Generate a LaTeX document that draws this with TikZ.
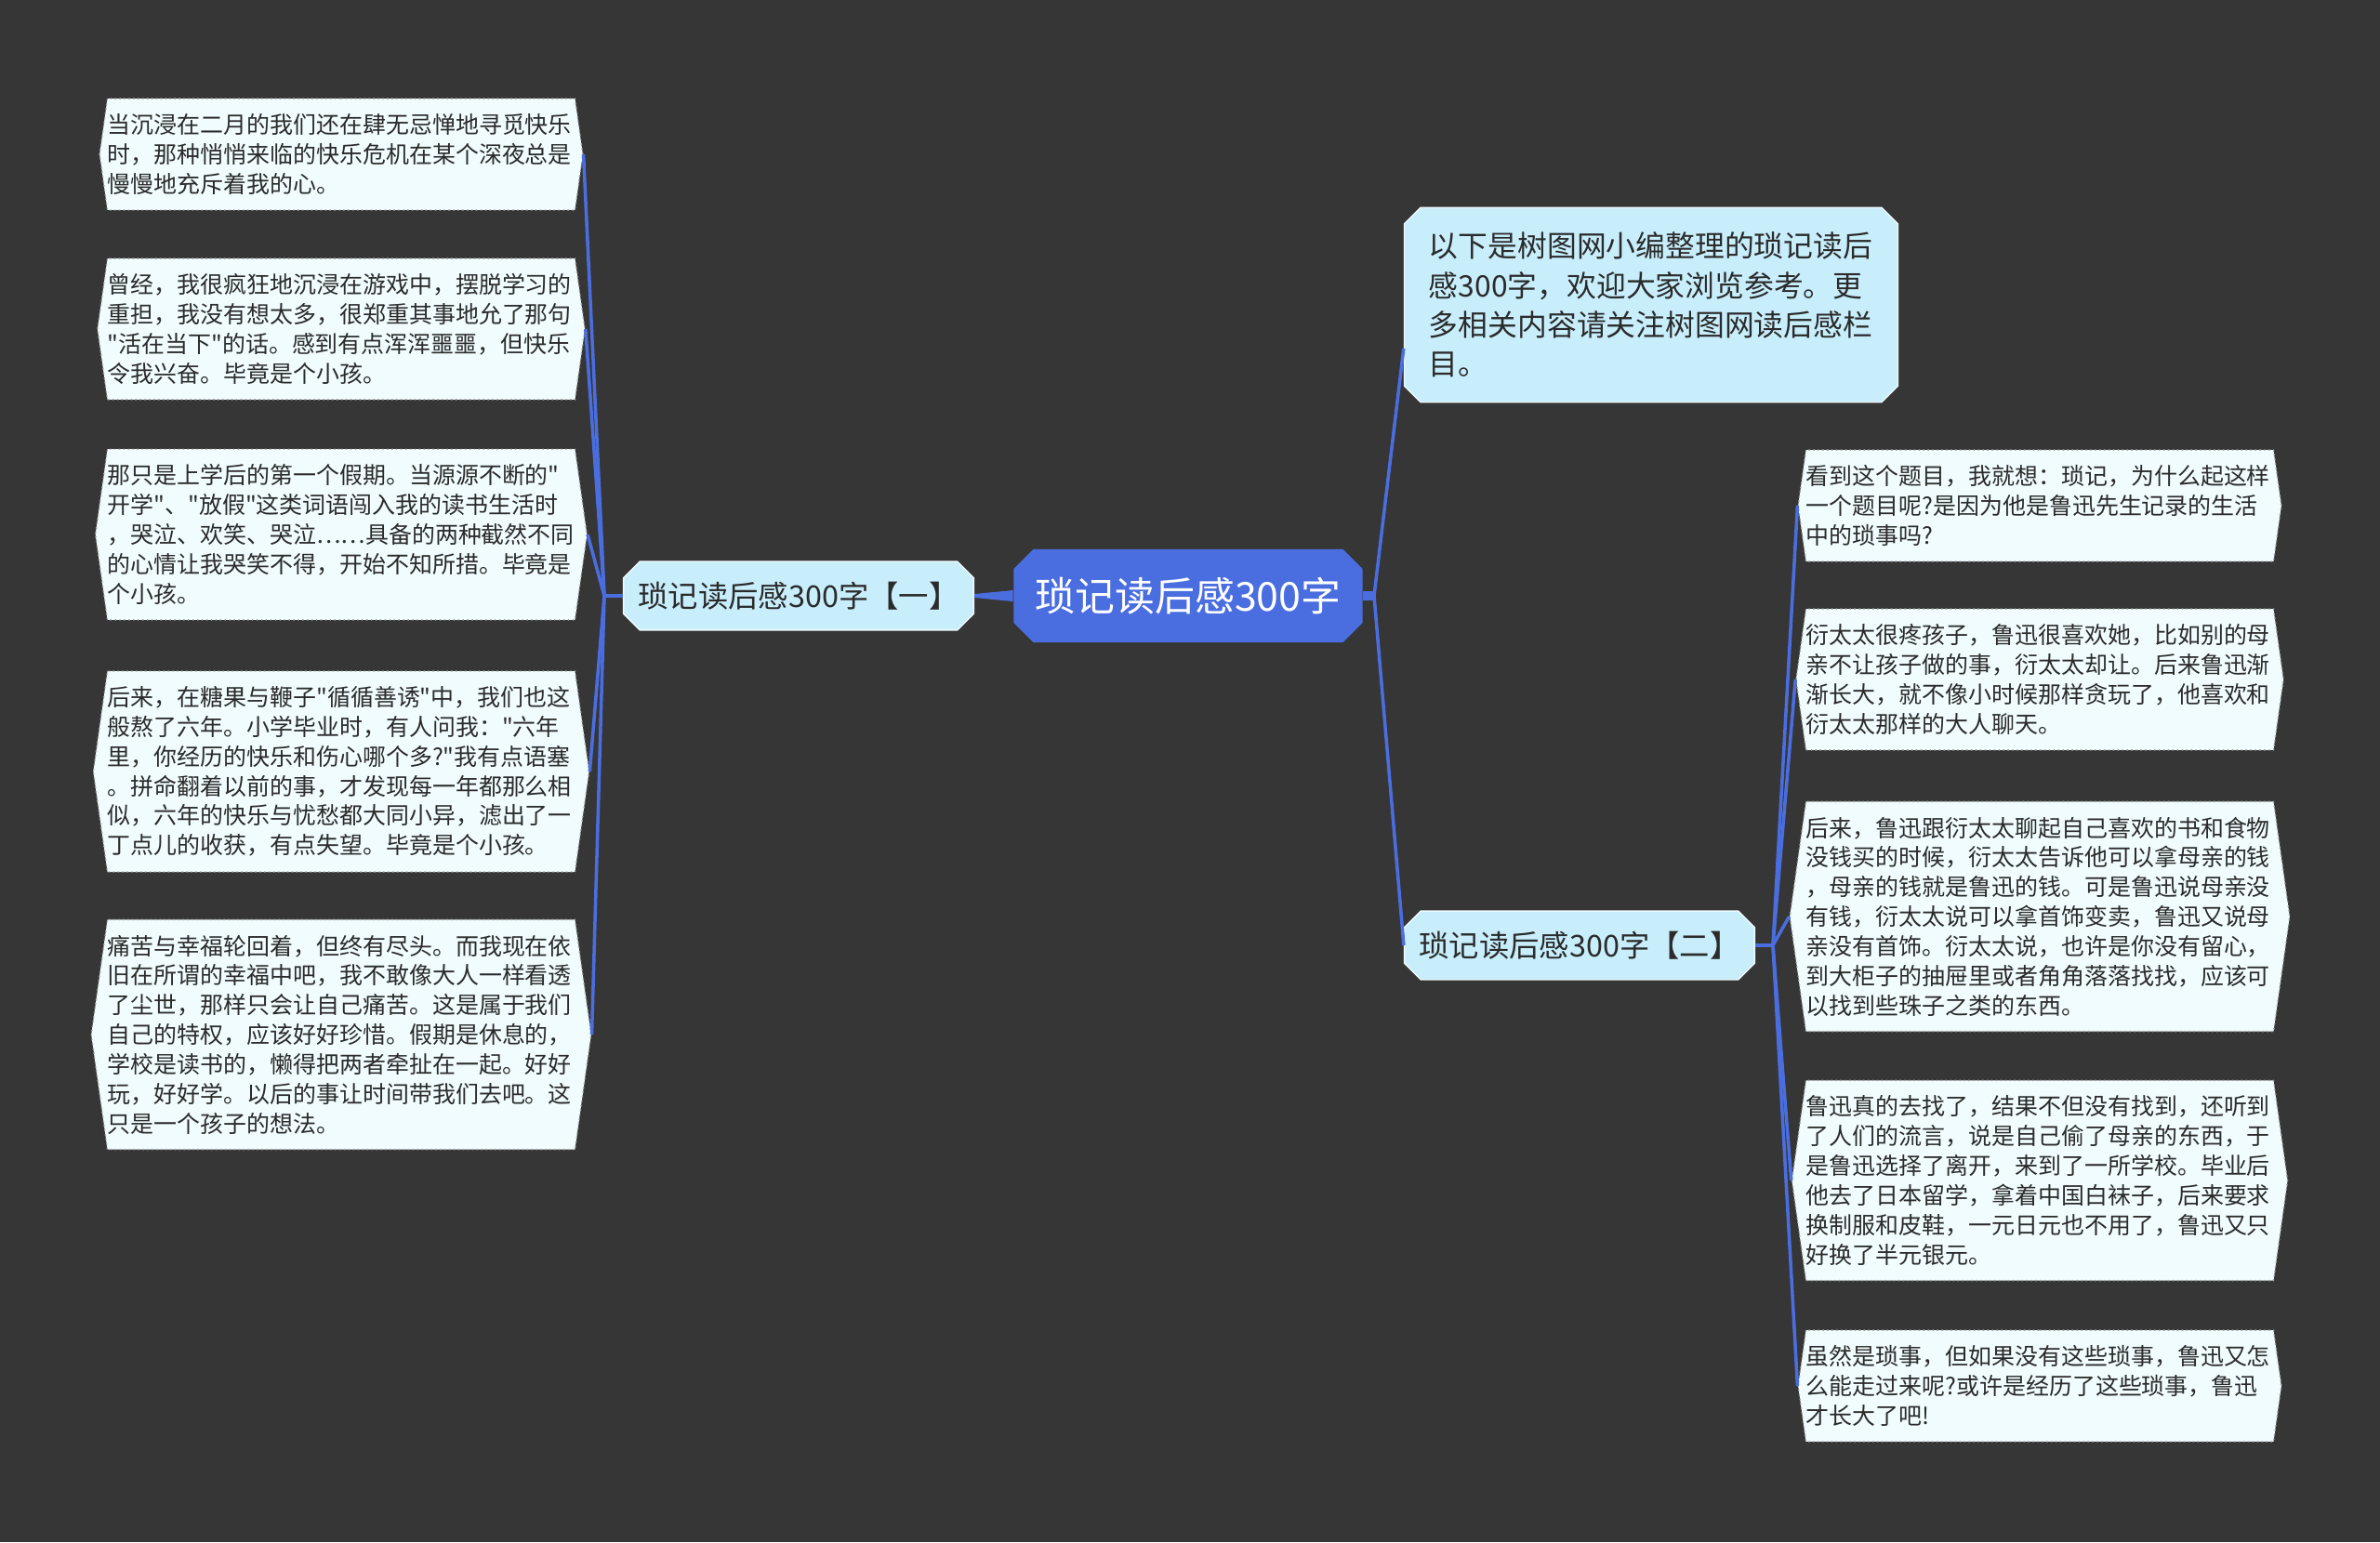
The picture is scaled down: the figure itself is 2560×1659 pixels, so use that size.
\documentclass[tikz,border=0pt]{standalone}
\usepackage{fontspec}
\setmainfont{Noto Sans CJK SC}[Ligatures=TeXOff]
\usetikzlibrary{shapes.misc,shapes.symbols,calc}

\definecolor{mapBack}{HTML}{363636}
\definecolor{mapRoot}{HTML}{4A6EE0}
\definecolor{mapLink}{HTML}{4A6EE0}
\definecolor{mapTopic}{HTML}{C8EEFC}
\definecolor{mapLeaf}{HTML}{F0FCFD}
\definecolor{mapInk}{HTML}{2B2B2B}

\begin{document}
\begin{tikzpicture}[x=0.01cm,y=-0.01cm,
  rootbox/.style={chamfered rectangle,chamfered rectangle xsep=3pt,chamfered rectangle ysep=3pt,
    fill=mapRoot,text=white,font=\fontsize{12.2pt}{14pt}\selectfont,
    minimum width=106.7pt,minimum height=28.5pt,inner sep=2pt},
  topicbox/.style={chamfered rectangle,chamfered rectangle xsep=2.5pt,chamfered rectangle ysep=2.5pt,
    fill=mapTopic,draw=white!70!mapTopic,text=mapInk,font=\fontsize{9.2pt}{11pt}\selectfont,
    minimum width=107pt,minimum height=21pt,inner sep=2pt},
  notebox/.style={topicbox,font=\fontsize{9.05pt}{12.07pt}\selectfont,
    text width=136pt,align=left,inner xsep=5pt,inner ysep=5pt},
  leafbox/.style={signal,signal to=east and west,signal pointer angle=164,
    fill=mapLeaf,draw=gray!70,densely dotted,line width=0.4pt,text=mapInk,
    font=\fontsize{7.1pt}{9.05pt}\selectfont,text width=143pt,align=left,
    inner xsep=0pt,inner ysep=4.7pt},
  link/.style={draw=mapLink,line width=1pt}]
  \fill[mapBack] (0,0) rectangle (2560,1659);
  \useasboundingbox (0,0) rectangle (2560,1659);

  % centre and the two topics
  \node[rootbox] (root) at (1278,641) {琐记读后感300字};
  \node[topicbox] (left) at (859,641) {琐记读后感300字【一】};
  \node[notebox] (intro) at (1776,328) {以下是树图网小编整理的琐记读后\\感300字，欢迎大家浏览参考。更\\多相关内容请关注树图网读后感栏\\目。};
  \node[topicbox] (right) at (1699,1017) {琐记读后感300字【二】};

  % left leaves
  \node[leafbox] (a1) at (367,166) {当沉浸在二月的我们还在肆无忌惮地寻觅快乐\\时，那种悄悄来临的快乐危机在某个深夜总是\\慢慢地充斥着我的心。};
  \node[leafbox] (a2) at (367,354) {曾经，我很疯狂地沉浸在游戏中，摆脱学习的\\重担，我没有想太多，很郑重其事地允了那句\\"活在当下"的话。感到有点浑浑噩噩，但快乐\\令我兴奋。毕竟是个小孩。};
  \node[leafbox] (a3) at (367,575) {那只是上学后的第一个假期。当源源不断的"\\开学"、"放假"这类词语闯入我的读书生活时\\，哭泣、欢笑、哭泣……具备的两种截然不同\\的心情让我哭笑不得，开始不知所措。毕竟是\\个小孩。};
  \node[leafbox] (a4) at (367,830) {后来，在糖果与鞭子"循循善诱"中，我们也这\\般熬了六年。小学毕业时，有人问我："六年\\里，你经历的快乐和伤心哪个多?"我有点语塞\\。拼命翻着以前的事，才发现每一年都那么相\\似，六年的快乐与忧愁都大同小异，滤出了一\\丁点儿的收获，有点失望。毕竟是个小孩。};
  \node[leafbox] (a5) at (367,1113) {痛苦与幸福轮回着，但终有尽头。而我现在依\\旧在所谓的幸福中吧，我不敢像大人一样看透\\了尘世，那样只会让自己痛苦。这是属于我们\\自己的特权，应该好好珍惜。假期是休息的，\\学校是读书的，懒得把两者牵扯在一起。好好\\玩，好好学。以后的事让时间带我们去吧。这\\只是一个孩子的想法。};

  % right leaves
  \node[leafbox] (b1) at (2194,544) {看到这个题目，我就想：琐记，为什么起这样\\一个题目呢?是因为他是鲁迅先生记录的生活\\中的琐事吗?};
  \node[leafbox] (b2) at (2194,731) {衍太太很疼孩子，鲁迅很喜欢她，比如别的母\\亲不让孩子做的事，衍太太却让。后来鲁迅渐\\渐长大，就不像小时候那样贪玩了，他喜欢和\\衍太太那样的大人聊天。};
  \node[leafbox] (b3) at (2194,986) {后来，鲁迅跟衍太太聊起自己喜欢的书和食物\\没钱买的时候，衍太太告诉他可以拿母亲的钱\\，母亲的钱就是鲁迅的钱。可是鲁迅说母亲没\\有钱，衍太太说可以拿首饰变卖，鲁迅又说母\\亲没有首饰。衍太太说，也许是你没有留心，\\到大柜子的抽屉里或者角角落落找找，应该可\\以找到些珠子之类的东西。};
  \node[leafbox] (b4) at (2194,1270) {鲁迅真的去找了，结果不但没有找到，还听到\\了人们的流言，说是自己偷了母亲的东西，于\\是鲁迅选择了离开，来到了一所学校。毕业后\\他去了日本留学，拿着中国白袜子，后来要求\\换制服和皮鞋，一元日元也不用了，鲁迅又只\\好换了半元银元。};
  \node[leafbox] (b5) at (2194,1491) {虽然是琐事，但如果没有这些琐事，鲁迅又怎\\么能走过来呢?或许是经历了这些琐事，鲁迅\\才长大了吧!};

  % connectors
  \coordinate (lj) at (650,641);
  \coordinate (rj) at (1478,641);
  \coordinate (bj) at (1907,1017);
  \fill[mapLink] ($(root.west)+(0,-6)$) -- ($(root.west)+(0,6)$) -- ($(left.east)+(0,2)$) -- ($(left.east)+(0,-2)$) -- cycle;
  \draw[link,line width=3pt] (root.east) -- (rj);
  \draw[link] (rj) -- (intro.190);
  \draw[link] (rj) -- (right.west);
  \draw[link] (left.west) -- (lj);
  \draw[link] (lj) -- (a1.east);
  \draw[link] (lj) -- (a2.east);
  \draw[link] (lj) -- (a3.east);
  \draw[link] (lj) -- (a4.east);
  \draw[link] (lj) -- (a5.east);
  \draw[link] (right.east) -- (bj);
  \draw[link] (bj) -- (b1.west);
  \draw[link] (bj) -- (b2.west);
  \draw[link] (bj) -- (b3.west);
  \draw[link] (bj) -- (b4.west);
  \draw[link] (bj) -- (b5.west);
\end{tikzpicture}
\end{document}
